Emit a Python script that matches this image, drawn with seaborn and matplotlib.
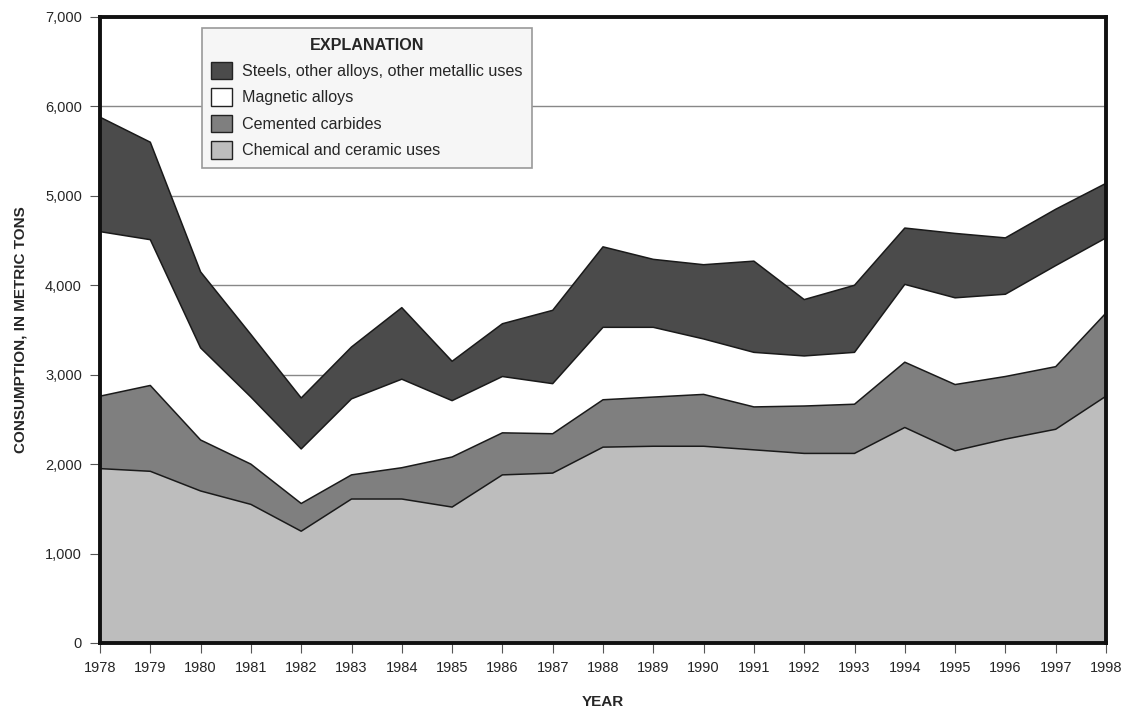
import matplotlib
matplotlib.use("Agg")
import matplotlib.pyplot as plt
import seaborn as sns
import numpy as np
from matplotlib.patches import Patch

years = list(range(1978, 1999))
chemical = [1950, 1920, 1700, 1550, 1250, 1610, 1610, 1520, 1880, 1900, 2190,
            2200, 2200, 2160, 2120, 2120, 2410, 2150, 2280, 2390, 2760]
carbides = [810, 960, 570, 450, 310, 270, 350, 560, 470, 440, 530,
            550, 580, 480, 530, 550, 730, 740, 700, 700, 930]
magnetic = [1840, 1630, 1030, 750, 610, 850, 990, 630, 630, 560, 810,
            780, 620, 610, 560, 580, 870, 970, 920, 1130, 840]
steels = [1280, 1090, 850, 700, 570, 580, 800, 440, 590, 820, 900,
          760, 830, 1020, 630, 750, 630, 720, 630, 630, 610]

series_names = ["Chemical and ceramic uses", "Cemented carbides",
                "Magnetic alloys", "Steels, other alloys, other metallic uses"]
series_values = [chemical, carbides, magnetic, steels]
colors = ["#bdbdbd", "#7f7f7f", "#ffffff", "#4b4b4b"]

sns.set_theme(style="white")
plt.rcParams['font.family'] = ['Liberation Sans', 'DejaVu Sans']

fig = plt.figure(figsize=(11.28, 7.09), dpi=100)
ax = fig.add_axes([100/1128, 1 - 643/709, 1006/1128, 626/709])

x = np.array(years)
base = np.zeros(len(years))
for name, vals, c in zip(series_names, series_values, colors):
    top = base + np.array(vals)
    ax.fill_between(x, base, top, facecolor=c, edgecolor="none", zorder=2)
    sns.lineplot(x=x, y=top, ax=ax, color="#1a1a1a", linewidth=1.1, zorder=3,
                 legend=False)
    base = top

ax.set_xlim(1978, 1998)
ax.set_ylim(0, 7000)
ax.set_yticks(range(0, 7001, 1000))
ax.set_yticklabels([f"{v:,}" for v in range(0, 7001, 1000)], fontsize=10.5)
ax.set_xticks(years)
ax.set_xticklabels([str(y) for y in years], fontsize=10.5)
ax.yaxis.grid(True, color="#888888", linewidth=1.0, zorder=1)
ax.set_axisbelow(True)
ax.tick_params(axis='both', which='both', direction='out', length=7,
               width=0.8, color="#555555", bottom=True, left=True, pad=6)

for s in ax.spines.values():
    s.set_visible(True)
    s.set_color("#111111")
    s.set_linewidth(2.8)
    s.set_zorder(5)

ax.set_xlabel("YEAR", fontsize=11, fontweight="bold", labelpad=14)
ax.set_ylabel("CONSUMPTION, IN METRIC TONS", fontsize=11, fontweight="bold",
              labelpad=13)

handles = [Patch(facecolor=c, edgecolor="#222222", linewidth=1.0, label=n)
           for n, c in zip(series_names[::-1], colors[::-1])]
leg = ax.legend(handles=handles, title="EXPLANATION", loc="upper left",
                bbox_to_anchor=(0.093, 0.995), fontsize=11.6, title_fontsize=11.6,
                frameon=True, fancybox=False, framealpha=1,
                handlelength=1.3, handleheight=1.3, handletextpad=0.6,
                labelspacing=0.55, borderpad=0.6)
leg.get_title().set_fontweight("bold")
leg.get_frame().set_facecolor("#f6f6f6")
leg.get_frame().set_edgecolor("#999999")
leg.get_frame().set_linewidth(1.2)
leg.set_zorder(6)

fig.savefig("out.png", dpi=100)
